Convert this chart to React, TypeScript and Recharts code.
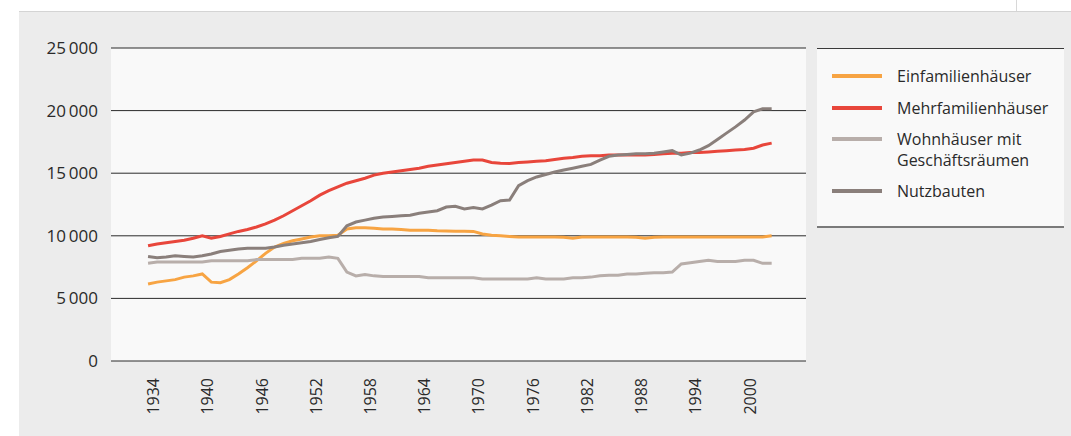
import React from "react";
import { LineChart, Line, XAxis, YAxis, CartesianGrid } from "recharts";

const years = [
  1934, 1935, 1936, 1937, 1938, 1939, 1940, 1941, 1942, 1943,
  1944, 1945, 1946, 1947, 1948, 1949, 1950, 1951, 1952, 1953,
  1954, 1955, 1956, 1957, 1958, 1959, 1960, 1961, 1962, 1963,
  1964, 1965, 1966, 1967, 1968, 1969, 1970, 1971, 1972, 1973,
  1974, 1975, 1976, 1977, 1978, 1979, 1980, 1981, 1982, 1983,
  1984, 1985, 1986, 1987, 1988, 1989, 1990, 1991, 1992, 1993,
  1994, 1995, 1996, 1997, 1998, 1999, 2000, 2001, 2002, 2003,
];

const einfamilien = [
  6150, 6300, 6400, 6500, 6700, 6800, 6950, 6300, 6250, 6500,
  6950, 7450, 8000, 8600, 9100, 9400, 9600, 9750, 9900, 10000,
  10000, 10050, 10550, 10650, 10650, 10600, 10550, 10550, 10500, 10450,
  10450, 10450, 10400, 10380, 10370, 10370, 10350, 10150, 10050, 10000,
  9950, 9900, 9900, 9900, 9900, 9900, 9880, 9800, 9900, 9900,
  9900, 9900, 9900, 9900, 9880, 9800, 9880, 9900, 9900, 9900,
  9900, 9900, 9900, 9900, 9900, 9900, 9900, 9900, 9900, 10000,
];

const mehrfamilien = [
  9200, 9350, 9450, 9550, 9650, 9800, 10000, 9800, 9950, 10150,
  10350, 10500, 10700, 10950, 11250, 11600, 12000, 12400, 12800, 13250,
  13600, 13900, 14200, 14400, 14600, 14850, 15000, 15100, 15200, 15300,
  15400, 15550, 15650, 15750, 15850, 15950, 16050, 16050, 15850, 15800,
  15780, 15850, 15900, 15950, 16000, 16100, 16200, 16250, 16350, 16400,
  16400, 16450, 16450, 16450, 16450, 16450, 16500, 16550, 16600, 16600,
  16650, 16650, 16700, 16750, 16800, 16850, 16900, 17000, 17250, 17400,
];

const wohnGeschaeft = [
  7800, 7900, 7900, 7900, 7900, 7900, 7900, 8000, 8000, 8000,
  8000, 8000, 8100, 8100, 8100, 8100, 8100, 8200, 8200, 8200,
  8300, 8200, 7100, 6800, 6900, 6800, 6750, 6750, 6750, 6750,
  6750, 6650, 6650, 6650, 6650, 6650, 6650, 6550, 6550, 6550,
  6550, 6550, 6550, 6650, 6550, 6550, 6550, 6650, 6650, 6700,
  6800, 6850, 6850, 6950, 6950, 7000, 7050, 7050, 7100, 7750,
  7850, 7950, 8050, 7950, 7950, 7950, 8050, 8050, 7800, 7800,
];

const nutzbauten = [
  8350, 8250, 8300, 8400, 8350, 8300, 8400, 8550, 8750, 8850,
  8950, 9000, 9000, 9000, 9100, 9250, 9350, 9450, 9550, 9700,
  9850, 9950, 10800, 11100, 11250, 11400, 11500, 11550, 11600, 11650,
  11800, 11900, 12000, 12300, 12350, 12150, 12250, 12150, 12450, 12800,
  12850, 14000, 14400, 14700, 14900, 15100, 15250, 15400, 15550, 15700,
  16050, 16350, 16450, 16500, 16550, 16550, 16600, 16700, 16800, 16450,
  16600, 16850, 17200, 17700, 18200, 18700, 19250, 19900, 20150, 20150,
];

const xTicks = [1934, 1940, 1946, 1952, 1958, 1964, 1970, 1976, 1982, 1988, 1994, 2000];
const yTicks = [0, 5000, 10000, 15000, 20000, 25000];

const seriesNames = [
  "Einfamilienhäuser",
  "Mehrfamilienhäuser",
  "Wohnhäuser mit Geschäftsräumen",
  "Nutzbauten",
];
const legendLines = [
  ["Einfamilienhäuser"],
  ["Mehrfamilienhäuser"],
  ["Wohnhäuser mit", "Geschäftsräumen"],
  ["Nutzbauten"],
];
const seriesKeys = ["einfamilien", "mehrfamilien", "wohn", "nutz"];
const seriesColors = ["#f7a443", "#e8463b", "#b8aeaa", "#8a7f7b"];

const data = years.map((y, i) => ({
  year: y,
  einfamilien: einfamilien[i],
  mehrfamilien: mehrfamilien[i],
  wohn: wohnGeschaeft[i],
  nutz: nutzbauten[i],
}));

const FONT = "'Open Sans', 'Noto Sans', sans-serif";
const TEXT = "#2a2a2a";

const fmt = (v: number) => {
  if (v < 1000) return String(v);
  const s = String(v);
  return s.slice(0, s.length - 3) + "\u2009" + s.slice(s.length - 3);
};

const XTick = (props: any) => {
  const { x, y, payload } = props;
  return (
    <text
      transform={`translate(${x + 5}, ${y + 9}) rotate(-90)`}
      textAnchor="end"
      dominantBaseline="central"
      fill={TEXT}
      fontSize={16}
      fontFamily={FONT}
    >
      {payload.value}
    </text>
  );
};

const itemY = [27, 59, 90, 142];

const LegendBox = () => (
  <div
    style={{
      position: "absolute",
      left: 798,
      top: 36,
      width: 247,
      height: 180,
      boxSizing: "border-box",
      background: "#f9f9f9",
      borderTop: "1px solid #3a3a3a",
      borderBottom: "2px solid #7a7a7a",
      fontFamily: FONT,
      fontSize: 16,
      color: TEXT,
    }}
  >
    {legendLines.map((lines, i) => (
      <React.Fragment key={i}>
        <div
          style={{
            position: "absolute",
            left: 15,
            top: itemY[i] - 2,
            width: 50,
            height: 4,
            background: seriesColors[i],
          }}
        />
        {lines.map((ln, j) => (
          <div
            key={j}
            style={{
              position: "absolute",
              left: 80,
              top: itemY[i] - 11 + j * 21,
              height: 22,
              lineHeight: "22px",
              whiteSpace: "nowrap",
            }}
          >
            {ln}
          </div>
        ))}
      </React.Fragment>
    ))}
  </div>
);

export default function App() {
  return (
    <div style={{ position: "absolute", left: 0, top: 0, width: 1071, height: 436, background: "#ffffff" }}>
      <div
        style={{
          position: "absolute",
          left: 1016,
          top: 0,
          width: 1,
          height: 11,
          background: "#d8d8d8",
        }}
      />
      <div
        style={{
          position: "absolute",
          left: 19,
          top: 11,
          width: 1052,
          height: 425,
          background: "#ececec",
          borderTop: "1px solid #d4d4d4",
          boxSizing: "border-box",
        }}
      >
        <div style={{ position: "absolute", left: 0, top: 0 }}>
          <LineChart
            width={1052}
            height={424}
            data={data}
            margin={{ top: 36, right: 265, bottom: 0, left: 0 }}
          >
            <CartesianGrid
              vertical={false}
              horizontal={true}
              stroke="#2b2b2b"
              strokeWidth={1}
              fill="#f9f9f9"
              fillOpacity={1}
            />
            <XAxis
              dataKey="year"
              type="number"
              domain={[1929.9, 2006.8]}
              ticks={xTicks}
              interval={0}
              allowDataOverflow
              axisLine={false}
              tickLine={false}
              height={75}
              tick={<XTick />}
            />
            <YAxis
              type="number"
              domain={[0, 25000]}
              ticks={yTicks}
              interval={0}
              width={92}
              axisLine={false}
              tickLine={false}
              tickSize={0}
              tickMargin={13}
              tickFormatter={fmt}
              tick={{ fill: TEXT, fontSize: 17, fontFamily: FONT }}
            />
            {seriesKeys.map((k, i) => (
              <Line
                key={k}
                dataKey={k}
                name={seriesNames[i]}
                type="linear"
                stroke={seriesColors[i]}
                strokeWidth={3}
                dot={false}
                activeDot={false}
                isAnimationActive={false}
              />
            ))}
          </LineChart>
        </div>
        <LegendBox />
      </div>
    </div>
  );
}
